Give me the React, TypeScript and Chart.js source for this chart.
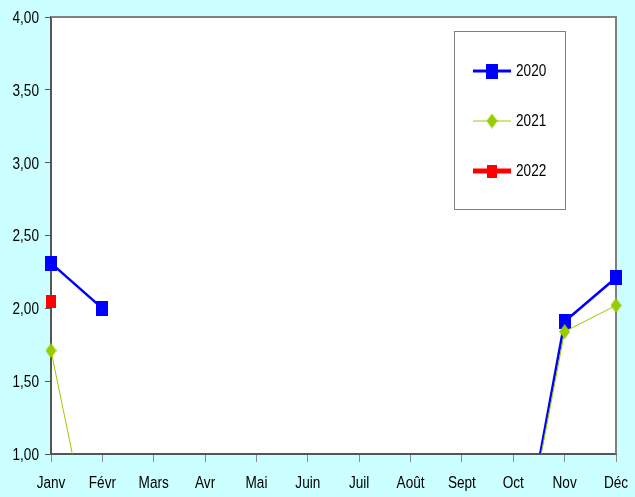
import React, { useEffect, useRef } from "react";
import { Chart, registerables } from "chart.js";

Chart.register(...registerables);

const months = ["Janv", "Févr", "Mars", "Avr", "Mai", "Juin", "Juil", "Août", "Sept", "Oct", "Nov", "Déc"];
const series2020 = [2.31, 2.0, null, null, null, null, null, null, null, 0, 1.91, 2.21];
const series2021 = [1.71, 0, 0, 0, 0, 0, 0, 0, 0, 0, 1.84, 2.02];
const series2022 = [2.05, null, null, null, null, null, null, null, null, null, null, null];
const yTicks = [1, 1.5, 2, 2.5, 3, 3.5, 4];

const FONT = "'Liberation Sans', Arial, sans-serif";

function makeRect(w: number, h: number, color: string) {
  const c = document.createElement("canvas");
  c.width = w;
  c.height = h;
  const ctx = c.getContext("2d")!;
  ctx.fillStyle = color;
  ctx.fillRect(0, 0, w, h);
  return c;
}

function makeDiamond(w: number, h: number, color: string) {
  const c = document.createElement("canvas");
  c.width = w;
  c.height = h;
  const ctx = c.getContext("2d")!;
  ctx.fillStyle = color;
  ctx.beginPath();
  ctx.moveTo(w / 2, 0);
  ctx.lineTo(w, h / 2);
  ctx.lineTo(w / 2, h);
  ctx.lineTo(0, h / 2);
  ctx.closePath();
  ctx.fill();
  return c;
}

function narrowText(ctx: CanvasRenderingContext2D, text: string, x: number, y: number, align: CanvasTextAlign, size: number, sx: number) {
  ctx.save();
  ctx.translate(x, y);
  ctx.scale(sx, 1);
  ctx.font = `${size}px ${FONT}`;
  ctx.fillStyle = "#000000";
  ctx.textAlign = align;
  ctx.textBaseline = "middle";
  ctx.fillText(text, 0, 0);
  ctx.restore();
}

export default function App() {
  const ref = useRef<HTMLCanvasElement>(null);

  useEffect(() => {
    document.body.style.margin = "0";
    const canvas = ref.current!;
    const blueSq = makeRect(12, 15, "#0000FF");
    const redSq = makeRect(10, 13, "#FF0000");
    const greenDia = makeDiamond(11, 15, "#99CC00");

    const bgPlugin = {
      id: "bg",
      beforeDraw(chart: any) {
        const { ctx, chartArea: a } = chart;
        ctx.save();
        ctx.fillStyle = "#CCFFFF";
        ctx.fillRect(0, 0, chart.width, chart.height);
        ctx.fillStyle = "#FFFFFF";
        ctx.fillRect(a.left, a.top, a.right - a.left, a.bottom - a.top);
        ctx.restore();
      },
      beforeDatasetsDraw(chart: any) {
        const { ctx, chartArea: a } = chart;
        ctx.save();
        ctx.strokeStyle = "#808080";
        ctx.lineWidth = 2;
        ctx.beginPath();
        ctx.moveTo(a.left, a.top);
        ctx.lineTo(a.right, a.top);
        ctx.lineTo(a.right, a.bottom);
        ctx.stroke();
        ctx.restore();
      },
    };

    const labelsPlugin = {
      id: "narrowLabels",
      afterDraw(chart: any) {
        const { ctx } = chart;
        const xs = chart.scales.x;
        const ys = chart.scales.y;
        months.forEach((m, i) => {
          narrowText(ctx, m, xs.getPixelForTick(i), 484, "center", 16, 0.85);
        });
        yTicks.forEach((v) => {
          narrowText(ctx, v.toFixed(2).replace(".", ","), 39, ys.getPixelForValue(v) + 1.5, "right", 16, 0.85);
        });
      },
    };

    const legendPlugin = {
      id: "boxLegend",
      afterDraw(chart: any) {
        const { ctx } = chart;
        ctx.save();
        ctx.fillStyle = "#FFFFFF";
        ctx.fillRect(454.5, 31.5, 111, 178);
        ctx.strokeStyle = "#808080";
        ctx.lineWidth = 1;
        ctx.strokeRect(454.5, 31.5, 111, 178);
        const rows = [
          { y: 71, color: "#0000FF", lw: 3, img: blueSq },
          { y: 121, color: "#99CC00", lw: 1, img: greenDia },
          { y: 171, color: "#FF0000", lw: 5, img: redSq },
        ];
        rows.forEach((r, i) => {
          ctx.strokeStyle = r.color;
          ctx.lineWidth = r.lw;
          ctx.beginPath();
          ctx.moveTo(473, r.y);
          ctx.lineTo(511, r.y);
          ctx.stroke();
          ctx.drawImage(r.img, 492 - r.img.width / 2, r.y - r.img.height / 2);
          narrowText(ctx, chart.data.datasets[i].label, 516, r.y + 0.5, "left", 17, 0.8);
        });
        ctx.restore();
      },
    };

    const clip = { left: 10, right: 10, top: 10, bottom: 0 };

    const chart = new Chart(canvas, {
      type: "line",
      data: {
        labels: months,
        datasets: [
          {
            label: "2020",
            data: series2020,
            borderColor: "#0000FF",
            backgroundColor: "#0000FF",
            borderWidth: 2.5,
            pointStyle: blueSq as any,
            pointRadius: 7,
            tension: 0,
            clip: clip as any,
            order: 2,
          },
          {
            label: "2021",
            data: series2021,
            borderColor: "#99CC00",
            backgroundColor: "#99CC00",
            borderWidth: 1,
            pointStyle: greenDia as any,
            pointRadius: 7,
            tension: 0,
            clip: clip as any,
            order: 1,
          },
          {
            label: "2022",
            data: series2022,
            borderColor: "#FF0000",
            backgroundColor: "#FF0000",
            borderWidth: 4,
            pointStyle: redSq as any,
            pointRadius: 6,
            tension: 0,
            clip: clip as any,
            order: 0,
          },
        ],
      },
      options: {
        animation: false,
        responsive: false,
        events: [],
        layout: { padding: { top: 17, right: 19, left: 0, bottom: 0 } },
        plugins: {
          legend: { display: false },
          tooltip: { enabled: false },
        },
        scales: {
          x: {
            type: "category",
            offset: false,
            afterFit(scale: any) {
              scale.height = 43;
            },
            grid: {
              drawOnChartArea: false,
              drawTicks: true,
              tickLength: 8,
              color: "#8A8A8A",
            },
            border: { display: true, color: "#555555", width: 2 },
            ticks: { display: false, autoSkip: false, maxRotation: 0 },
          },
          y: {
            min: 1,
            max: 4,
            afterFit(scale: any) {
              scale.width = 51;
            },
            afterBuildTicks(scale: any) {
              scale.ticks = yTicks.map((v) => ({ value: v }));
            },
            grid: {
              drawOnChartArea: false,
              drawTicks: true,
              tickLength: 6,
              color: "#555555",
            },
            border: { display: true, color: "#555555", width: 2 },
            ticks: { display: false },
          },
        },
      },
      plugins: [bgPlugin, labelsPlugin, legendPlugin],
    });
    return () => chart.destroy();
  }, []);

  return <canvas ref={ref} width={635} height={497} style={{ display: "block" }} />;
}
